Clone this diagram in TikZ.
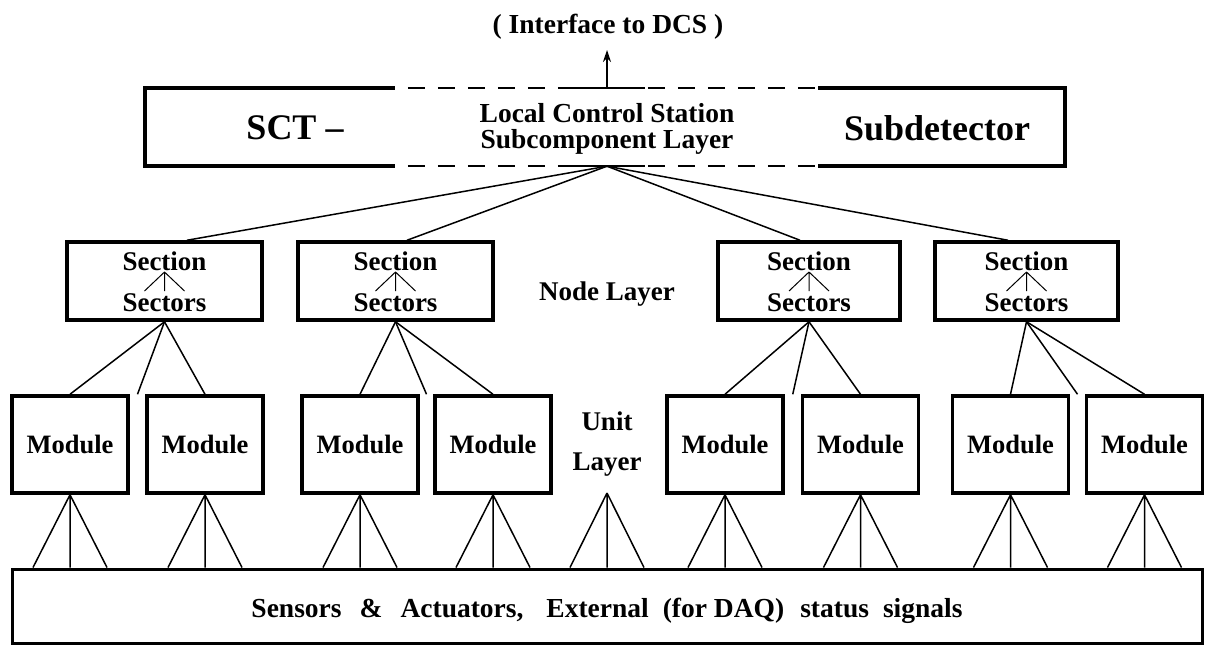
\documentclass[tikz,border=0pt]{standalone}
\usepackage{fontspec}
\setmainfont{Liberation Serif}
\usetikzlibrary{calc,arrows.meta}

\begin{document}
\begin{tikzpicture}[x=1pt,y=-1pt,
  box/.style={draw, line width=3.5pt, inner sep=0pt, font=\fontsize{26.5}{30}\selectfont\bfseries},
  heavy/.style={line width=3.5pt},
  dashline/.style={line width=2pt, dash pattern=on 17pt off 13pt, dash phase=17pt},
  midline/.style={line width=2pt},
  link/.style={line width=1.5pt},
  fine/.style={line width=1pt},
  lbl/.style={inner sep=0pt, anchor=base, font=\fontsize{27}{32}\selectfont\bfseries},
  toplbl/.style={lbl, font=\fontsize{27.5}{32}\selectfont\bfseries},
  biglbl/.style={lbl, font=\fontsize{36}{40}\selectfont\bfseries}]

\useasboundingbox (0,0) rectangle (1205,646);
\fill[white] (0,0) rectangle (1205,646);

% ---------- subdetector (top) layer ----------
\node[minimum width=920pt, minimum height=78pt, inner sep=0pt] (top) at (605,127) {};
\draw[heavy] ([xshift=250pt]top.north west) -- (top.north west) -- (top.south west) -- ([xshift=250pt]top.south west);
\draw[heavy] ([xshift=-247pt]top.north east) -- (top.north east) -- (top.south east) -- ([xshift=-247pt]top.south east);
\draw[dashline] ([xshift=250pt]top.north west) -- ([xshift=-247pt]top.north east);
\draw[dashline] ([xshift=250pt]top.south west) -- ([xshift=-247pt]top.south east);
\draw[midline] ([xshift=423pt]top.north west) -- ([xshift=500pt]top.north west);
\draw[midline] ([xshift=423pt]top.south west) -- ([xshift=500pt]top.south west);

\node[biglbl] (sct) at (295,139) {SCT –};
\node[biglbl] (subdet) at (937,140) {Subdetector};
\node[toplbl] (lcs) at (607,122) {Local Control Station};
\node[toplbl] (scl) at (607,148) {Subcomponent Layer};

% interface arrow
\node[toplbl] (dcs) at (608,33) {( Interface to DCS )};
\coordinate (up) at (607,50);
\draw[link, -{Stealth[length=12pt,width=8pt]}] (up |- top.north) -- (up);

% ---------- node layer ----------
\foreach \n/\x/\w in {1/164.5/195, 2/395.5/195, 3/809/182, 4/1026.5/183} {
  \node[box, minimum width=\w pt, minimum height=78pt] (s\n) at (\x,281) {};
  \node[lbl] (s\n a) at ($(s\n.center)+(0,-11)$) {Section};
  \node[lbl] (s\n b) at ($(s\n.center)+(0,30)$) {Sectors};
  \draw[fine] ($(s\n.center)+(0,-9)$) -- +(-20,19)
              ($(s\n.center)+(0,-9)$) -- +(0,19)
              ($(s\n.center)+(0,-9)$) -- +(20,19);
}
\node[lbl] (nodelayer) at (607,300) {Node Layer};

% links from the local control station to the sections
\coordinate (hub) at (up |- top.south);
\draw[link] (hub) -- ($(s1.north)+(22.5,0)$);
\draw[link] (hub) -- ($(s2.north)+(11.5,0)$);
\draw[link] (hub) -- ($(s3.north)+(-9,0)$);
\draw[link] (hub) -- ($(s4.north)+(-18.5,0)$);

% ---------- unit layer ----------
\foreach \n/\x in {1/70, 2/205, 3/360, 4/493, 5/725, 6/860.5, 7/1010.5, 8/1144.5} {
  \node[box, minimum width=116pt, minimum height=97pt] (m\n) at (\x,444.5) {Module};
}
\node[lbl] (unit) at (607,430) {Unit};
\node[lbl] (layer) at (607,470) {Layer};

% section to module links
\foreach \s/\a/\b in {1/1/2, 2/3/4, 3/5/6, 4/7/8} {
  \draw[link] (s\s.south) -- (m\a.north);
  \draw[link] (s\s.south) -- ($(m\a.north east)!0.5!(m\b.north west)$);
  \draw[link] (s\s.south) -- (m\b.north);
}

% ---------- sensors & actuators ----------
\node[draw, line width=3pt, minimum width=1190pt, minimum height=74pt, inner sep=0pt] (bus) at (607,606) {};
\node[lbl, font=\fontsize{27.5}{32}\selectfont\bfseries] (bustext) at ($(bus.center)+(0,11)$)
  {Sensors\hspace{18pt}\&\hspace{18pt}Actuators,\hspace{23pt}External\hspace{14pt}(for DAQ)\hspace{16pt}status\hspace{14pt}signals};

% module to bus links
\foreach \n in {1,...,8} {
  \coordinate (f\n) at (m\n.south |- bus.north);
  \draw[link] (m\n.south) -- ($(f\n)+(-37,0)$)
              (m\n.south) -- (f\n)
              (m\n.south) -- ($(f\n)+(37,0)$);
}
\coordinate (ua) at (607,493);
\coordinate (uf) at (ua |- bus.north);
\draw[link] (ua) -- ($(uf)+(-37,0)$)
            (ua) -- (uf)
            (ua) -- ($(uf)+(37,0)$);
\end{tikzpicture}
\end{document}
